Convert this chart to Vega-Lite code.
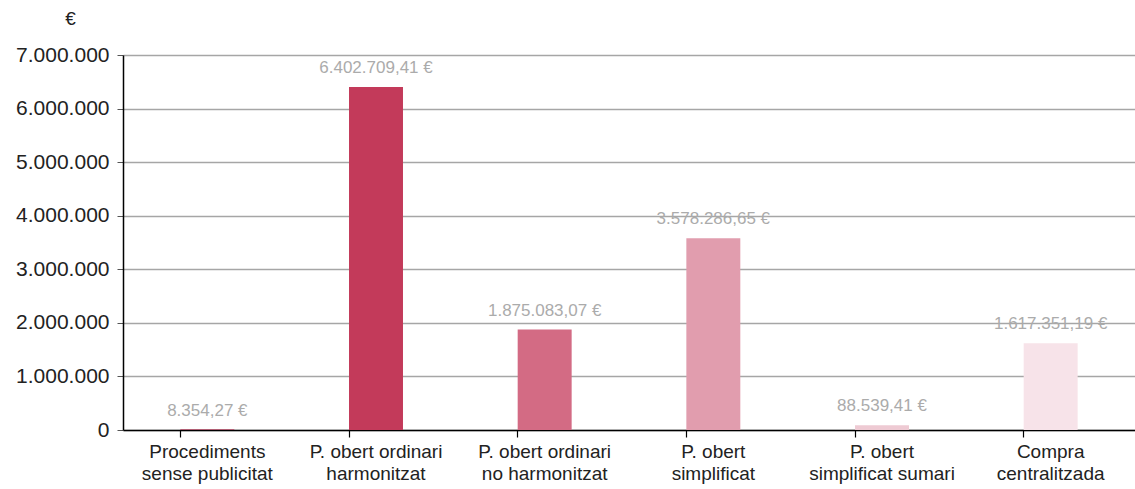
{
  "$schema": "https://vega.github.io/schema/vega-lite/v6.json",
  "autosize": {"type": "none"},
  "padding": {"left": 123, "top": 55, "right": 0, "bottom": 59},
  "width": 1012,
  "height": 375,
  "background": "white",
  "config": {
    "locale": {"number": {"decimal": ",", "thousands": ".", "grouping": [3], "currency": ["", " €"]}},
    "view": {"stroke": null},
    "font": "Liberation Sans"
  },
  "data": {
    "values": [
      {"procediment": "Procediments sense publicitat", "import": 8354.27, "color": "#b3113b"},
      {"procediment": "P. obert ordinari harmonitzat", "import": 6402709.41, "color": "#c33a5a"},
      {"procediment": "P. obert ordinari no harmonitzat", "import": 1875083.07, "color": "#d36b84"},
      {"procediment": "P. obert simplificat", "import": 3578286.65, "color": "#e19dae"},
      {"procediment": "P. obert simplificat sumari", "import": 88539.41, "color": "#eecad3"},
      {"procediment": "Compra centralitzada", "import": 1617351.19, "color": "#f7e3e9"}
    ]
  },
  "encoding": {
    "x": {
      "field": "procediment",
      "type": "nominal",
      "sort": null,
      "scale": {"paddingInner": 0.68, "paddingOuter": 0.34},
      "axis": {
        "title": null,
        "labelAngle": 0,
        "labelExpr": "datum.label == 'Procediments sense publicitat' ? ['Procediments', 'sense publicitat'] : datum.label == 'P. obert ordinari harmonitzat' ? ['P. obert ordinari', 'harmonitzat'] : datum.label == 'P. obert ordinari no harmonitzat' ? ['P. obert ordinari', 'no harmonitzat'] : datum.label == 'P. obert simplificat' ? ['P. obert', 'simplificat'] : datum.label == 'P. obert simplificat sumari' ? ['P. obert', 'simplificat sumari'] : ['Compra', 'centralitzada']",
        "labelFontSize": 19,
        "labelColor": "#222222",
        "labelPadding": 5,
        "labelLineHeight": 22,
        "domainColor": "#000000",
        "domainWidth": 1.5,
        "tickColor": "#000000",
        "tickSize": 7,
        "tickWidth": 1.2,
        "bandPosition": 0,
        "grid": false
      }
    },
    "y": {
      "field": "import",
      "type": "quantitative",
      "scale": {"domain": [0, 7000000], "nice": false},
      "axis": {
        "values": [0, 1000000, 2000000, 3000000, 4000000, 5000000, 6000000, 7000000],
        "format": ",.0f",
        "title": "€",
        "titleAngle": 0,
        "titleX": -53,
        "titleY": -27,
        "titleAlign": "center",
        "titleFontSize": 19,
        "titleFontWeight": "normal",
        "titleColor": "#222222",
        "labelFontSize": 21,
        "labelColor": "#222222",
        "labelPadding": 8,
        "domainColor": "#000000",
        "domainWidth": 1.5,
        "tickColor": "#555555",
        "tickSize": 6,
        "grid": true,
        "gridColor": "#a6a6a6",
        "gridWidth": 1.3
      }
    }
  },
  "layer": [
    {
      "mark": {"type": "bar"},
      "encoding": {"color": {"field": "color", "type": "nominal", "scale": null}}
    },
    {
      "mark": {"type": "text", "baseline": "bottom", "dy": -10, "fontSize": 17, "color": "#ababab"},
      "encoding": {"text": {"field": "import", "type": "quantitative", "format": "$,.2f"}}
    }
  ]
}
